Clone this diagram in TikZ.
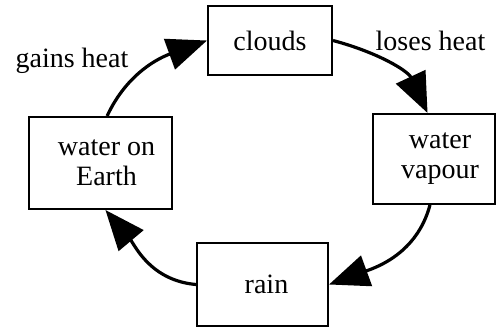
\documentclass[tikz,border=0pt]{standalone}
\usepackage{fontspec}
\setmainfont{Liberation Serif}
\usetikzlibrary{arrows.meta}
\tikzset{>=Stealth}

\begin{document}
\begin{tikzpicture}[x=0.5pt,y=0.5pt]
  \tikzset{
    cbox/.style={rectangle, draw=black, line width=1pt, fill=white,
      align=center, inner sep=0pt,
      font=\fontsize{14}{15}\selectfont},
    clabel/.style={font=\fontsize{14}{16}\selectfont, inner sep=0pt},
    cycarrow/.style={-{Triangle[length=20pt,width=16pt]}, line width=1.6pt, black}
  }
  \useasboundingbox (0,0) rectangle (497,328);

  \node[cbox, minimum width=62pt, minimum height=34.5pt] (clouds) at (270,287.5) {clouds};
  \node[cbox, minimum width=61pt, minimum height=45pt] (vapour) at (434,169) {\hspace*{6pt}water\\\hspace*{6pt}vapour};
  \node[cbox, minimum width=65.5pt, minimum height=41.5pt] (rain) at (262.5,43.5) {\hspace*{4pt}rain};
  \node[cbox, minimum width=71.5pt, minimum height=46pt] (earth) at (100.5,165) {\hspace*{6pt}water on\\\hspace*{6pt}Earth};

  \node[clabel] (gains) at (72,267) {gains heat};
  \node[clabel] (loses) at (430.5,287) {loses heat};

  \foreach \a/\b/\o/\i in {earth.82/clouds.west/65/200, clouds.east/vapour.98/-15/115,
    vapour.265/rain.east/-105/20, rain.west/earth.276/175/-50}{
    \draw[cycarrow] (\a) to[out=\o,in=\i] (\b);
  }
\end{tikzpicture}
\end{document}
